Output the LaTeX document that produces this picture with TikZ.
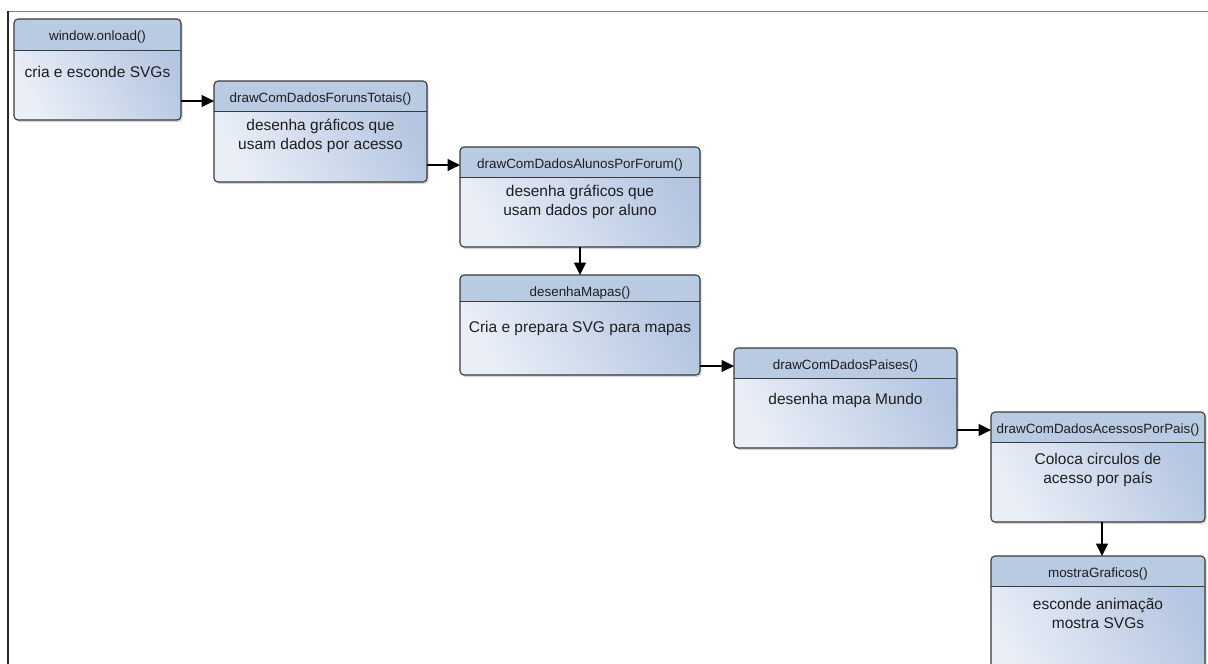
\documentclass[tikz,border=0pt]{standalone}
\usepackage{fontspec}
\setmainfont{Liberation Sans}
\usetikzlibrary{arrows.meta}

\definecolor{hdrc}{HTML}{B9CAE3}
\definecolor{bodyL}{HTML}{E9EEF7}
\definecolor{bodyR}{HTML}{B3C5E0}
\definecolor{edgec}{HTML}{3A3A3A}
\definecolor{textc}{HTML}{1E1E1E}

\tikzset{
  boxframe/.style={inner sep=0pt, outer sep=0pt, draw=none},
  titletext/.style={inner sep=0pt, anchor=base, text=textc,
    font=\fontsize{13.4}{16}\selectfont},
  bodytext/.style={inner sep=0pt, anchor=base, align=center, text=textc,
    font=\fontsize{15.5}{19}\selectfont},
  flow/.style={line width=1.2pt, black, -{Triangle[length=12.5pt,width=12pt]}},
}

% #1 name, #2 left, #3 top, #4 right, #5 bottom, #6 header line,
% #7 title, #8 baseline of last body line, #9 body text
\newcommand\fnbox[9]{%
  \fill[black, opacity=0.16, rounded corners=4pt] (#2+1.5,#3+2) rectangle (#4+1.5,#5+2);
  \shade[rounded corners=4pt, left color=bodyL, right color=bodyR, shading angle=120]
    (#2,#3) rectangle (#4,#5);
  \begin{scope}
    \clip[rounded corners=4pt] (#2,#3) rectangle (#4,#5);
    \fill[hdrc] (#2,#3) rectangle (#4,#6);
  \end{scope}
  \draw[edgec, line width=1.1pt, rounded corners=4pt] (#2,#3) rectangle (#4,#5);
  \draw[edgec, line width=0.9pt] (#2,#6) -- (#4,#6);
  \node[boxframe, minimum width={(#4-#2)*1pt}, minimum height={(#5-#3)*1pt}]
    (#1) at ({(#2+#4)/2},{(#3+#5)/2}) {};
  \node[titletext] (#1t) at ({(#2+#4)/2},#3+21.5) {#7};
  \node[bodytext] (#1b) at ({(#2+#4)/2},#8) {#9};
}

\begin{document}
\begin{tikzpicture}[x=1pt, y=-1pt]
  \clip (0,0) rectangle (1208,664);
  \fill[white] (0,0) rectangle (1208,664);

  % outer frame
  \draw[black!50, line width=1.7pt] (8,11.6) -- (1210,11.6);
  \draw[black!85, line width=1.6pt] (8.2,11) -- (8.2,670);

  \fnbox{b1}{14}{19}{181}{120}{50}{window.onload()}{77}{cria e esconde SVGs}
  \fnbox{b2}{214}{81}{427}{182}{111}{drawComDadosForunsTotais()}{149}{desenha gráficos que\\usam dados por acesso}
  \fnbox{b3}{460}{147}{700}{247}{177}{drawComDadosAlunosPorForum()}{215}{desenha gráficos que\\usam dados por aluno}
  \fnbox{b4}{460}{275}{700}{375}{301}{desenhaMapas()}{332}{Cria e prepara SVG para mapas}
  \fnbox{b5}{734}{348}{957}{448}{378}{drawComDadosPaises()}{404}{desenha mapa Mundo}
  \fnbox{b6}{991}{412}{1205}{522}{442}{drawComDadosAcessosPorPais()}{483}{Coloca circulos de\\acesso por país}
  \fnbox{b7}{991}{556}{1205}{690}{586}{mostraGraficos()}{628}{esconde animação\\mostra SVGs}

  % call order
  \draw[flow] ([yshift=-2pt]b1.east |- b2t) -- ([yshift=-2pt]b2.west |- b2t);
  \draw[flow] (b2.east |- b3t) -- (b3.west |- b3t);
  \draw[flow] (b3.south) -- (b4.north);
  \draw[flow] (b4.east |- b5t) -- (b5.west |- b5t);
  \draw[flow] (b5.east |- b6t) -- (b6.west |- b6t);
  \draw[flow] ([xshift=4pt]b6.south) -- ([xshift=4pt]b6.south |- b7.north);
\end{tikzpicture}
\end{document}
